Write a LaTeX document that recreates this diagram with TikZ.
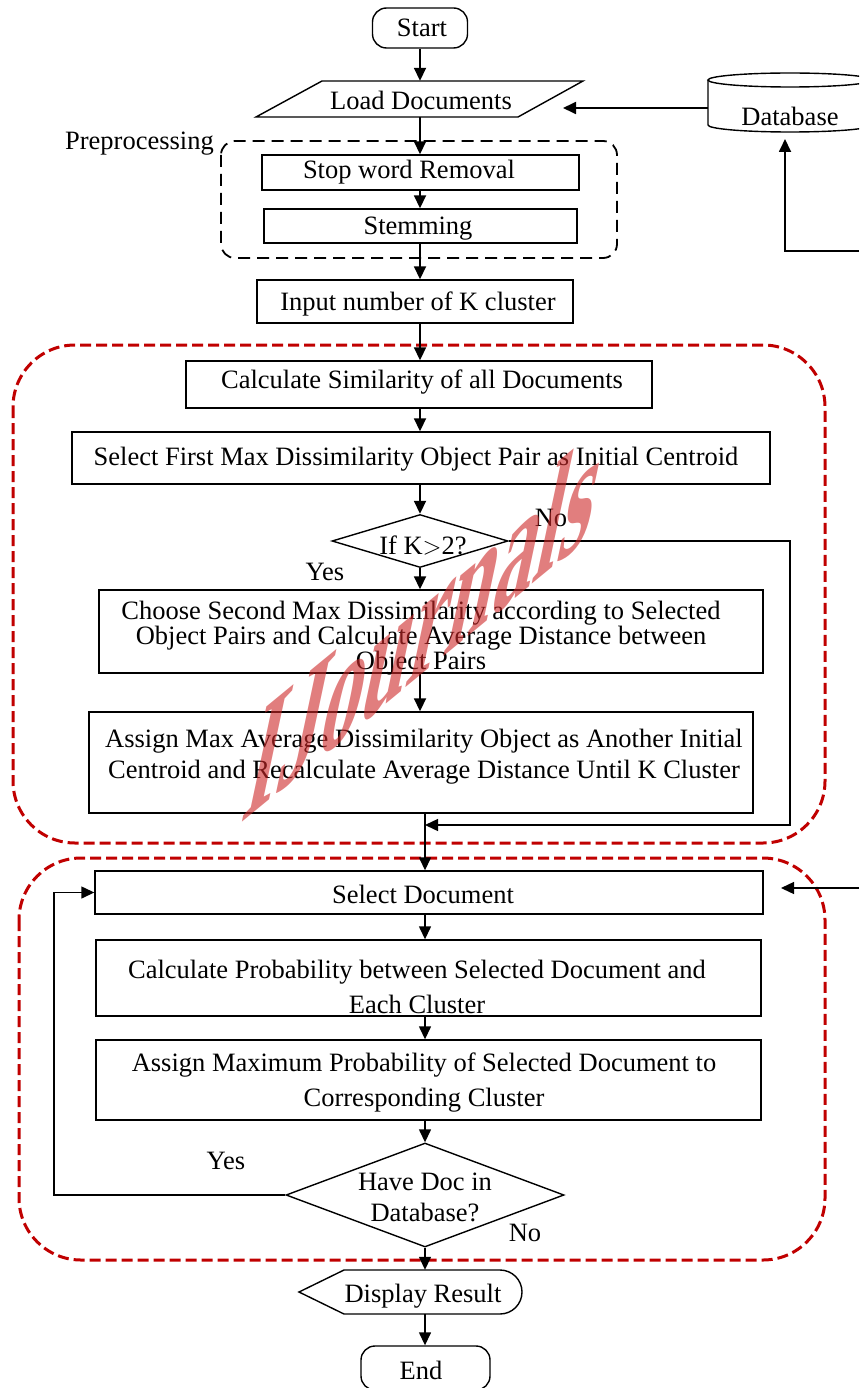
\documentclass[tikz,border=0pt]{standalone}
\usepackage{fontspec}
\setmainfont{Liberation Serif}
\usetikzlibrary{arrows.meta,shapes.geometric}
\definecolor{dred}{RGB}{192,0,0}
\definecolor{wmred}{RGB}{205,40,40}
\begin{document}
\begin{tikzpicture}[x=1pt,y=-1pt,
  box/.style={draw,line width=1.4pt,inner sep=0pt},
  term/.style={draw,line width=1.4pt,inner sep=0pt,rounded corners=14pt},
  ghost/.style={inner sep=0pt},
  txt/.style={font=\fontsize{26.5}{30}\selectfont,inner sep=0pt,align=center},
  arr/.style={line width=1.8pt,-{Triangle[length=13pt,width=12pt]}},
  reddash/.style={draw=dred,line width=3pt,dash pattern=on 11pt off 5pt,rounded corners=62pt},
  blkdash/.style={draw,line width=1.8pt,dash pattern=on 12pt off 7pt,rounded corners=14pt}
]
\useasboundingbox (0,0) rectangle (859,1388);
\clip (0,0) rectangle (859,1388);

% dashed groups
\draw[blkdash] (221,141) rectangle (617,258);
\draw[reddash] (13,345) rectangle (825,843);
\draw[reddash] (19,858) rectangle (825,1260);

% columns
\coordinate (c1) at (420,0);
\coordinate (c2) at (425,0);
\coordinate (nocol) at (790,0);
\coordinate (loopcol) at (54,0);

% Start
\node[term,minimum width=95pt,minimum height=40pt] (start) at (420,28) {};
\node[txt] (tstart) at (422,28) {Start};

% Load documents (parallelogram)
\node[ghost,minimum width=196pt,minimum height=36pt] (load) at (420,99) {};
\draw[line width=1.4pt] (322,81) -- (583,81) -- (518,117) -- (256,117) -- cycle;
\node[txt] (tload) at (421,100) {Load Documents};
\coordinate (loadR) at (563,108);

% Database cylinder
\node[ghost,minimum width=164pt,minimum height=59pt] (db) at (790,103) {};
\draw[line width=1.4pt,fill=white] (708,80) -- (708,125) arc[start angle=180,end angle=0,x radius=82,y radius=7] -- (872,80);
\draw[line width=1.4pt] (790,80) ellipse [x radius=82,y radius=7];
\node[txt] (tdb) at (790,116) {Database};
\coordinate (dbin) at (859,251);
\coordinate (dbtip) at (785,139);

% Preprocessing
\node[box,minimum width=317pt,minimum height=35pt] (stop) at (420.5,172.5) {};
\node[txt] (tstop) at (409,172) {Stop word Removal};
\node[box,minimum width=313pt,minimum height=34pt] (stem) at (420.5,226) {};
\node[txt] (tstem) at (418,229) {Stemming};
\node[txt,anchor=east] (tpre) at (214,144) {Preprocessing};

% Input
\node[box,minimum width=316pt,minimum height=43pt] (input) at (415,301.5) {};
\node[txt] (tinput) at (418,304) {Input number of K cluster};

% Cluster init group
\node[box,minimum width=466pt,minimum height=47pt] (calc) at (419,384.5) {};
\node[txt] (tcalc) at (422,382) {Calculate Similarity of all Documents};
\node[box,minimum width=698pt,minimum height=52pt] (sel1) at (421,458) {};
\node[txt] (tsel1) at (416,459) {Select First Max Dissimilarity Object Pair as Initial Centroid};

\node[diamond,draw,line width=1.4pt,inner sep=0pt,minimum width=176pt,minimum height=53pt] (dk) at (420,541) {};
\node[txt] (tdk) at (423,545) {If K$>$2?};
\node[txt] (tno1) at (551,518) {No};
\node[txt] (tyes1) at (325,572) {Yes};

\node[box,minimum width=664pt,minimum height=83pt] (choose) at (431,631.5) {};
\node[txt,font=\fontsize{26.5}{25}\selectfont] (tchoose) at (421,638) {Choose Second Max Dissimilarity according to Selected\\Object Pairs and Calculate Average Distance between\\Object Pairs};

\node[box,minimum width=664pt,minimum height=101pt] (assign) at (421,762.5) {};
\node[txt,font=\fontsize{26.5}{31}\selectfont] (tassign) at (424,757) {Assign Max Average Dissimilarity Object as Another Initial\\Centroid and Recalculate Average Distance Until K Cluster};

\coordinate (merge) at (425,825);

% Classification group
\node[box,minimum width=668pt,minimum height=43pt] (seldoc) at (429,892.5) {};
\node[txt] (tseldoc) at (423,894) {Select Document};
\coordinate (rin) at (859,888);
\coordinate (rtip) at (781,888);

\node[box,minimum width=665pt,minimum height=76pt] (cprob) at (428.5,978) {};
\node[txt,font=\fontsize{26.5}{35}\selectfont] (tcprob) at (417,987) {Calculate Probability between Selected Document and\\Each Cluster};

\node[box,minimum width=665pt,minimum height=80pt] (amax) at (428.5,1080) {};
\node[txt,font=\fontsize{26.5}{35}\selectfont] (tamax) at (424,1083) {Assign Maximum Probability of Selected Document to\\Corresponding Cluster};

\node[diamond,draw,line width=1.4pt,inner sep=0pt,minimum width=278pt,minimum height=104pt] (dh) at (425,1195) {};
\node[txt,font=\fontsize{26.5}{31}\selectfont] (tdh) at (425,1197) {Have Doc in\\Database?};
\node[txt] (tyes2) at (226,1161) {Yes};
\node[txt] (tno2) at (525,1233) {No};

% Display result
\node[ghost,minimum width=223pt,minimum height=44pt] (disp) at (410.5,1292) {};
\draw[line width=1.4pt] (299,1292) -- (344,1270) -- (500,1270) arc[start angle=-90,end angle=90,radius=22] -- (344,1314) -- cycle;
\node[txt] (tdisp) at (423,1296) {Display Result};

% End
\node[term,minimum width=129pt,minimum height=44pt] (end) at (425.5,1368) {};
\node[txt] (tend) at (421,1370) {End};

% connectors
\draw[arr] (start.south) -- (load.north);
\draw[arr] (load.south) -- (c1 |- stop.north);
\draw[arr] (c1 |- stop.south) -- (c1 |- stem.north);
\draw[arr] (c1 |- stem.south) -- (c1 |- input.north);
\draw[arr] (db.west |- loadR) -- (loadR);
\draw[arr] (dbin) -| (dbtip);
\draw[arr] (c1 |- input.south) -- (c1 |- calc.north);
\draw[arr] (c1 |- calc.south) -- (c1 |- sel1.north);
\draw[arr] (c1 |- sel1.south) -- (dk.north);
\draw[arr] (dk.south) -- (c1 |- choose.north);
\draw[arr] (c1 |- choose.south) -- (c1 |- assign.north);
\draw[arr,line width=1.4pt] (dk.east) -| (nocol |- merge) -- (merge);
\draw[arr,line width=1.4pt] (c2 |- assign.south) -- (c2 |- seldoc.north);
\draw[arr,line width=1.4pt] (c2 |- seldoc.south) -- (c2 |- cprob.north);
\draw[arr,line width=1.4pt] (c2 |- cprob.south) -- (c2 |- amax.north);
\draw[arr,line width=1.4pt] (c2 |- amax.south) -- (dh.north);
\draw[arr,line width=1.4pt] (dh.west) -| (loopcol |- seldoc.west) -- (seldoc.west);
\draw[arr,line width=1.4pt] (rin) -- (rtip);
\draw[arr,line width=1.4pt] (dh.south) -- (dh.south |- disp.north);
\draw[arr,line width=1.4pt] (dh.south |- disp.south) -- (dh.south |- end.north);

% watermark
\node[font=\fontsize{100}{100}\selectfont\bfseries,text=wmred,text opacity=0.6,inner sep=0pt,
  cm={0.845,0.695,0.374,1.76,(0,0)}] (wmk) at (426,622) {IJournals};
\end{tikzpicture}
\end{document}
